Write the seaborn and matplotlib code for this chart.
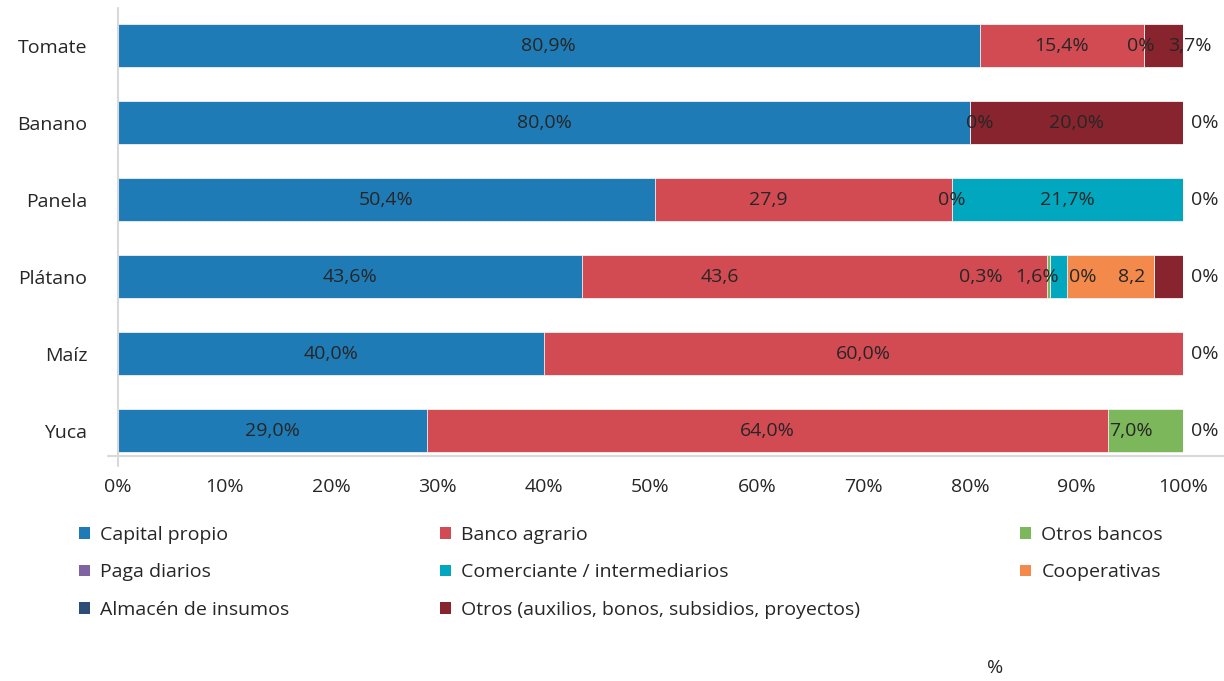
import matplotlib
matplotlib.use("Agg")
import matplotlib.pyplot as plt
from matplotlib.patches import Patch
from matplotlib.lines import Line2D
import numpy as np
import pandas as pd
import seaborn as sns

# ---------------- data ----------------
categorias = ["Tomate", "Banano", "Panela", "Plátano", "Maíz", "Yuca"]

capital_propio = [80.9, 80.0, 50.4, 43.6, 40.0, 29.0]
banco_agrario = [15.4, 0.0, 27.9, 43.6, 60.0, 64.0]
otros_bancos = [0.0, 0.0, 0.0, 0.3, 0.0, 7.0]
paga_diarios = [0.0, 0.0, 0.0, 0.0, 0.0, 0.0]
comerciante = [0.0, 0.0, 21.7, 1.6, 0.0, 0.0]
cooperativas = [0.0, 0.0, 0.0, 8.2, 0.0, 0.0]
almacen_insumos = [0.0, 0.0, 0.0, 0.0, 0.0, 0.0]
otros = [3.7, 20.0, 0.0, 2.7, 0.0, 0.0]

series_nombres = ["Capital propio", "Banco agrario", "Otros bancos", "Paga diarios",
                  "Comerciante / intermediarios", "Cooperativas", "Almacén de insumos",
                  "Otros (auxilios, bonos, subsidios, proyectos)"]

# data label texts (as shown in the chart)
lbl_capital = ["80,9%", "80,0%", "50,4%", "43,6%", "40,0%", "29,0%"]
lbl_banco = ["15,4%", "0%", "27,9", "43,6", "60,0%", "64,0%"]
lbl_otros_bancos = ["0%", "", "0%", "0,3%", "", "7,0%"]
lbl_paga = ["", "", "", "0%", "", ""]
lbl_comerciante = ["", "", "21,7%", "1,6%", "", ""]
lbl_coop = ["", "", "", "8,2", "", ""]
lbl_almacen = ["", "", "", "", "", ""]
lbl_otros = ["3,7%", "20,0%", "", "", "", ""]
lbl_fuera = ["", "0%", "0%", "0%", "0%", "0%"]

x_ticks = [0, 10, 20, 30, 40, 50, 60, 70, 80, 90, 100]
x_ticklabels = ["0%", "10%", "20%", "30%", "40%", "50%", "60%", "70%", "80%", "90%", "100%"]

# ---------------- style / layout ----------------
colores = ["#1F7BB6", "#D24A52", "#7DB75B", "#8064A2",
           "#00A7BE", "#F38A4B", "#2C4D75", "#87242D"]
# label offsets (in % units) to mimic the original label placement
offsets = {(1, 1): 0.9, (1, 2): -3.3, (1, 3): -8.9, (2, 3): -6.3, (3, 3): 3.1,
           (4, 3): -2.0, (5, 3): 2.0, (7, 0): 2.5, (2, 5): -1.4, (2, 0): -0.3}
TXT = "#262626"
GRID = "#D9D9D9"
FS = 14

sns.set_theme(style="white")
plt.rcParams["font.family"] = ["Open Sans", "DejaVu Sans"]

fig = plt.figure(figsize=(12.24, 6.81), dpi=100)
ax = fig.add_axes([118 / 1224, 1 - 456 / 681, (1183 - 118) / 1224, (456 - 8) / 681])

series = [capital_propio, banco_agrario, otros_bancos, paga_diarios,
          comerciante, cooperativas, almacen_insumos, otros]
labels = [lbl_capital, lbl_banco, lbl_otros_bancos, lbl_paga,
          lbl_comerciante, lbl_coop, lbl_almacen, lbl_otros]
vals = np.array(series)
cum_end = np.cumsum(vals, axis=0)
cum_start = cum_end - vals

# draw stacked bars: cumulative totals drawn from last to first
for k in range(len(series) - 1, -1, -1):
    df = pd.DataFrame({"cat": categorias, "val": cum_end[k]})
    sns.barplot(data=df, x="val", y="cat", orient="h", color=colores[k],
                saturation=1, width=0.56, errorbar=None,
                edgecolor="#F2F2F2", linewidth=0.6, ax=ax)

# data labels
for k in range(len(series)):
    for i in range(len(categorias)):
        t = labels[k][i]
        if not t:
            continue
        xc = (cum_start[k][i] + cum_end[k][i]) / 2 + offsets.get((k, i), 0)
        ax.text(xc, i, t, ha="center", va="center", fontsize=FS, color=TXT)
for i in range(len(categorias)):
    if lbl_fuera[i]:
        ax.text(cum_end[-1][i] + 2.0, i, lbl_fuera[i], ha="center", va="center",
                fontsize=FS, color=TXT, clip_on=False)

ax.set_xlim(0, 100)
ax.set_ylim(5.331, -0.487)
ax.set_xticks(x_ticks)
ax.set_xticklabels(x_ticklabels, fontsize=FS, color=TXT)
ax.tick_params(axis="x", length=0, pad=16)
ax.tick_params(axis="y", length=0, pad=22, labelsize=FS, labelcolor=TXT)
ax.set_ylabel("")
ax.set_xlabel("")
for s in ["top", "right", "left", "bottom"]:
    ax.spines[s].set_visible(False)

# axis lines (left line extends slightly below, bottom line extends left/right)
ax.add_line(Line2D([0, 0], [1.0, -0.022], transform=ax.transAxes, color=GRID,
                   lw=1.5, clip_on=False))
ax.add_line(Line2D([-0.009, 1.04], [0, 0], transform=ax.transAxes, color=GRID,
                   lw=1.5, clip_on=False))

# x axis title
fig.text(995 / 1224, 1 - 668 / 681, "%", ha="center", va="center", fontsize=FS, color=TXT)

# legend: three columns placed individually
handles = [Patch(facecolor=c, edgecolor="none") for c in colores]
cols = [[0, 3, 6], [1, 4, 7], [2, 5]]
col_x = [79 / 1224, 440 / 1224, 1020 / 1224]
for cx, idxs in zip(col_x, cols):
    leg = fig.legend([handles[j] for j in idxs], [series_nombres[j] for j in idxs],
                     loc="upper left", bbox_to_anchor=(cx, 1 - 526 / 681),
                     frameon=False, fontsize=FS, handlelength=0.55, handleheight=0.55,
                     handletextpad=0.55, labelspacing=1.0, borderaxespad=0, borderpad=0)
    for t in leg.get_texts():
        t.set_color(TXT)

fig.savefig("out.png", dpi=100)
